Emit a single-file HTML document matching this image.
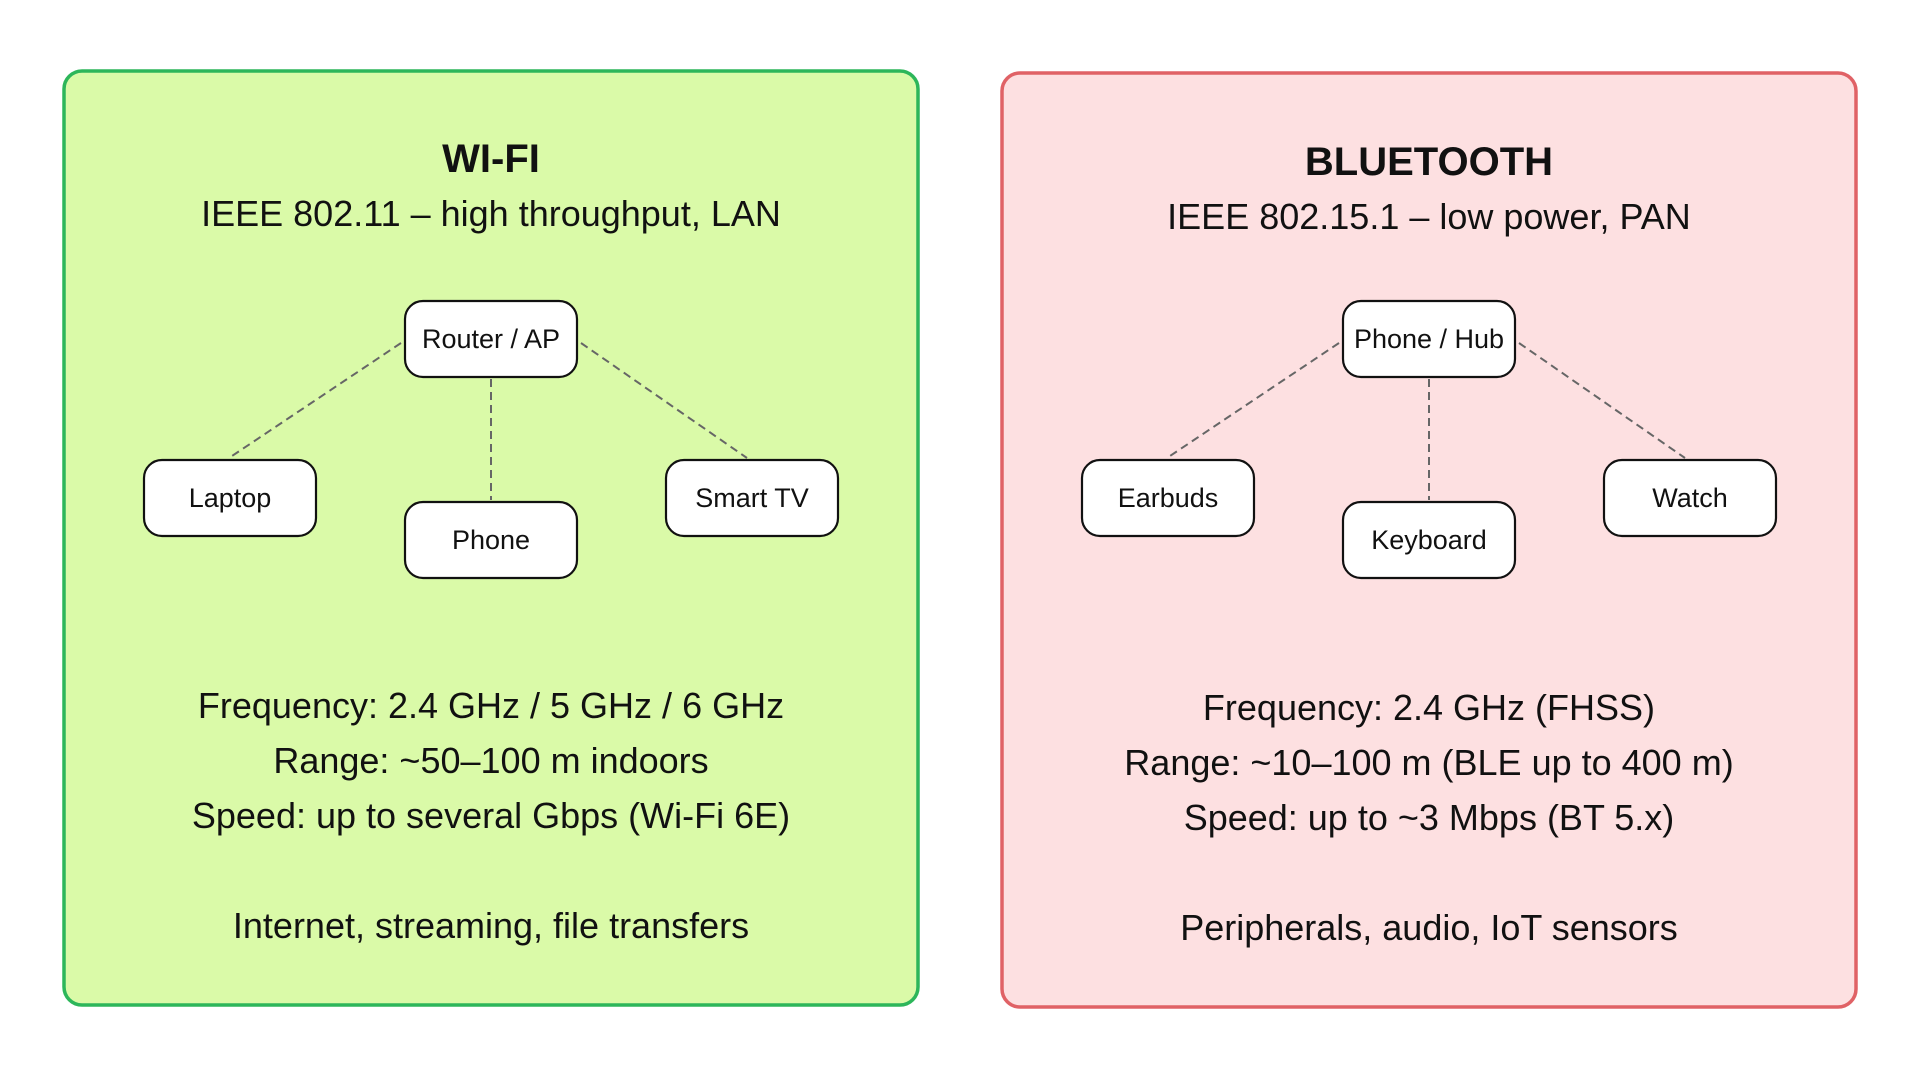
<!DOCTYPE html>
<html><head><style>
body{margin:0;width:1920px;height:1080px;background:#fff;overflow:hidden;font-family:"Liberation Sans",sans-serif;}
svg text{font-family:"Liberation Sans",sans-serif;fill:#111;text-anchor:middle;}
</style></head><body>
<svg width="1920" height="1080" viewBox="0 0 1920 1080">
<rect x="64" y="71" width="854" height="934" rx="18" fill="#dafaa8" stroke="#2db65a" stroke-width="3.5"/>
<rect x="1002" y="73" width="854" height="934" rx="18" fill="#fde0e1" stroke="#e06266" stroke-width="3.5"/>
<g id="l">
<text x="491" y="172" font-size="40" font-weight="bold">WI-FI</text>
<text x="491" y="226" font-size="36">IEEE 802.11 – high throughput, LAN</text>
<g stroke="#666" stroke-width="2" stroke-dasharray="8,5" fill="none">
<line x1="401" y1="343" x2="229" y2="458"/>
<line x1="491" y1="379" x2="491" y2="500"/>
<line x1="581" y1="343" x2="747" y2="458"/>
</g>
<g fill="#fff" stroke="#111" stroke-width="2.2">
<rect x="405" y="301" width="172" height="76" rx="18"/>
<rect x="144" y="460" width="172" height="76" rx="18"/>
<rect x="405" y="502" width="172" height="76" rx="18"/>
<rect x="666" y="460" width="172" height="76" rx="18"/>
</g>
<g font-size="27">
<text x="491" y="348">Router / AP</text>
<text x="230" y="507">Laptop</text>
<text x="491" y="549">Phone</text>
<text x="752" y="507">Smart TV</text>
</g>
<g font-size="36">
<text x="491" y="718">Frequency: 2.4 GHz / 5 GHz / 6 GHz</text>
<text x="491" y="773">Range: ~50–100 m indoors</text>
<text x="491" y="828">Speed: up to several Gbps (Wi-Fi 6E)</text>
<text x="491" y="938">Internet, streaming, file transfers</text>
</g>
</g>
<g>
<text x="1429" y="175" font-size="40" font-weight="bold">BLUETOOTH</text>
<text x="1429" y="229" font-size="36">IEEE 802.15.1 – low power, PAN</text>
<g stroke="#666" stroke-width="2" stroke-dasharray="8,5" fill="none">
<line x1="1339" y1="343" x2="1167" y2="458"/>
<line x1="1429" y1="379" x2="1429" y2="500"/>
<line x1="1519" y1="343" x2="1685" y2="458"/>
</g>
<g fill="#fff" stroke="#111" stroke-width="2.2">
<rect x="1343" y="301" width="172" height="76" rx="18"/>
<rect x="1082" y="460" width="172" height="76" rx="18"/>
<rect x="1343" y="502" width="172" height="76" rx="18"/>
<rect x="1604" y="460" width="172" height="76" rx="18"/>
</g>
<g font-size="27">
<text x="1429" y="348">Phone / Hub</text>
<text x="1168" y="507">Earbuds</text>
<text x="1429" y="549">Keyboard</text>
<text x="1690" y="507">Watch</text>
</g>
<g font-size="36">
<text x="1429" y="720">Frequency: 2.4 GHz (FHSS)</text>
<text x="1429" y="775">Range: ~10–100 m (BLE up to 400 m)</text>
<text x="1429" y="830">Speed: up to ~3 Mbps (BT 5.x)</text>
<text x="1429" y="940">Peripherals, audio, IoT sensors</text>
</g>
</g>
</svg>
</body></html>
